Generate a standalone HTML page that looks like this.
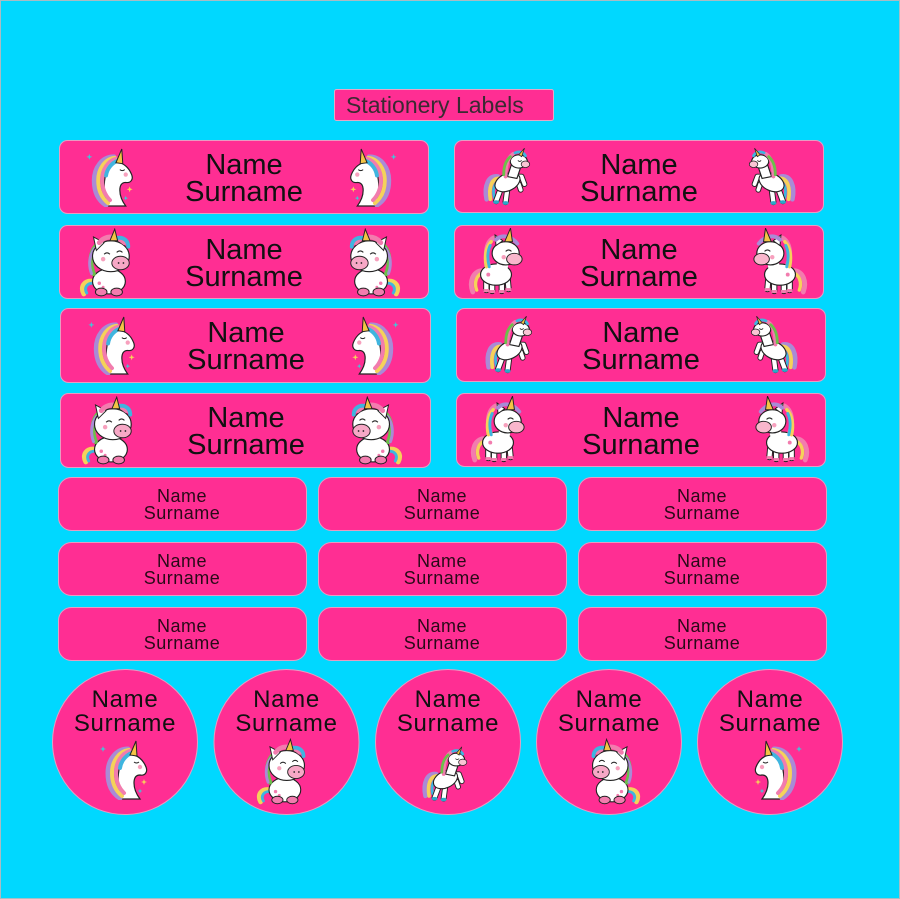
<!DOCTYPE html>
<html><head><meta charset="utf-8"><style>
html,body{margin:0;padding:0;background:#00d8ff;}
svg{display:block;}
</style></head><body>
<svg xmlns="http://www.w3.org/2000/svg" width="900" height="899" viewBox="0 0 900 899">
<defs>
<path id="spk" d="M0 -3 L0.8 -0.8 L3 0 L0.8 0.8 L0 3 L-0.8 0.8 L-3 0 L-0.8 -0.8 Z"/>
<symbol id="hd" viewBox="0 0 50 60">
<path d="M22 59 C20 48 18 40 20 30 C21 19 28 13 35 15 C41 17 45 22 47 27 C49 32 46 36 41 35 C37 35 35 38 35 43 C35 50 38 55 41 59 Z" fill="#fff" stroke="#222" stroke-width="1.2"/>
<path d="M29 9 C17 9 9 20 9 33 C9 45 13 53 21 58" fill="none" stroke="#a98bd6" stroke-width="5" stroke-linecap="round"/>
<path d="M30 10 C20 11 13 21 13 33 C13 44 17 51 23 56" fill="none" stroke="#f5d25a" stroke-width="4" stroke-linecap="round"/>
<path d="M31 11 C23 13 17 22 17 32 C17 42 20 48 25 53" fill="none" stroke="#f27cae" stroke-width="4" stroke-linecap="round"/>
<path d="M33 13 C27 15 22 21 21 28" fill="none" stroke="#3fb5df" stroke-width="4" stroke-linecap="round"/>
<path d="M31 15 L37 1 L38 16 Z" fill="#f4c445" stroke="#222" stroke-width="1"/>
<path d="M35 22 Q37.5 24 40 22" fill="none" stroke="#222" stroke-width="1"/>
<circle cx="41" cy="27" r="2.2" fill="#f7a0bd"/>
<use href="#spk" transform="translate(4,9)" fill="#3fc9d8"/>
<use href="#spk" transform="translate(45,42)" fill="#f5d25a"/>
<use href="#spk" transform="translate(41,51) scale(0.8)" fill="#3fc9d8"/>
</symbol>
<symbol id="st" viewBox="0 0 60 70">
<path d="M17 54 C6 52 2 60 6 67" fill="none" stroke="#f5d25a" stroke-width="5" stroke-linecap="round"/>
<path d="M17 56 C9 55 6 61 9 66" fill="none" stroke="#3fb5df" stroke-width="3" stroke-linecap="round"/>
<ellipse cx="32" cy="54" rx="17" ry="13" fill="#fff" stroke="#222" stroke-width="1.2"/>
<circle cx="22" cy="56" r="1.8" fill="#f27cae"/><circle cx="26" cy="60" r="1.5" fill="#f27cae"/>
<ellipse cx="24" cy="65" rx="6" ry="4" fill="#f27cae" stroke="#222" stroke-width="1"/>
<ellipse cx="40" cy="65" rx="6" ry="4" fill="#f27cae" stroke="#222" stroke-width="1"/>
<path d="M20 16 C12 24 12 36 16 46" fill="none" stroke="#6cc04a" stroke-width="5" stroke-linecap="round"/>
<path d="M17 20 C11 28 11 38 14 46" fill="none" stroke="#a98bd6" stroke-width="3" stroke-linecap="round"/>
<ellipse cx="34" cy="28" rx="19" ry="16" fill="#fff" stroke="#222" stroke-width="1.2"/>
<path d="M19 22 L16 8 L27 14 Z" fill="#fff" stroke="#222" stroke-width="1"/>
<ellipse cx="44" cy="35" rx="9" ry="7" fill="#f7a8c6" stroke="#222" stroke-width="1"/>
<circle cx="42" cy="35" r="0.9" fill="#222"/><circle cx="47" cy="35" r="0.9" fill="#222"/>
<path d="M22 14 C28 6 40 6 48 14" fill="none" stroke="#f27cae" stroke-width="5" stroke-linecap="round"/>
<path d="M41 9 C47 8 52 12 52 18" fill="none" stroke="#3fb5df" stroke-width="4" stroke-linecap="round"/>
<path d="M33 12 L38 0 L41 12 Z" fill="#f4c445" stroke="#222" stroke-width="1"/>
<path d="M27 26 Q30 23 33 26" fill="none" stroke="#222" stroke-width="1.1"/>
<path d="M40 24 Q43 21 46 24" fill="none" stroke="#222" stroke-width="1.1"/>
<circle cx="26" cy="31" r="2.3" fill="#f7a0bd"/>
</symbol>
<symbol id="rr" viewBox="0 0 55 62">
<path d="M18 30 C8 28 3 40 6 54" fill="none" stroke="#a98bd6" stroke-width="5" stroke-linecap="round"/>
<path d="M19 32 C11 32 8 42 10 54" fill="none" stroke="#f5d25a" stroke-width="4" stroke-linecap="round"/>
<path d="M20 34 C14 36 12 44 14 52" fill="none" stroke="#3fb5df" stroke-width="3" stroke-linecap="round"/>
<path d="M22 40 L16 56 M28 42 L26 57" stroke="#222" stroke-width="6.5" stroke-linecap="round"/>
<path d="M22 40 L16 56 M28 42 L26 57" stroke="#fff" stroke-width="4.5" stroke-linecap="round"/>
<ellipse cx="16" cy="57" rx="3.2" ry="2" fill="#2aa8c8"/><ellipse cx="26" cy="58" rx="3.2" ry="2" fill="#2aa8c8"/>
<path d="M34 30 L43 30 L46 38 M32 34 L40 38 L42 44" fill="none" stroke="#222" stroke-width="6" stroke-linecap="round" stroke-linejoin="round"/>
<path d="M34 30 L43 30 L46 38 M32 34 L40 38 L42 44" fill="none" stroke="#fff" stroke-width="4" stroke-linecap="round" stroke-linejoin="round"/>
<ellipse cx="28" cy="36" rx="14" ry="9" transform="rotate(-25 28 36)" fill="#fff" stroke="#222" stroke-width="1.2"/>
<path d="M28 30 L34 12 L44 14 L38 32 Z" fill="#fff" stroke="#222" stroke-width="1.2"/>
<ellipse cx="40" cy="14" rx="9" ry="7" fill="#fff" stroke="#222" stroke-width="1.2"/>
<ellipse cx="47" cy="17" rx="4.5" ry="3.5" fill="#f9c4d4" stroke="#222" stroke-width="0.8"/>
<path d="M34 6 C28 10 26 20 26 30" fill="none" stroke="#f27cae" stroke-width="4" stroke-linecap="round"/>
<path d="M31 9 C25 14 24 22 24 28" fill="none" stroke="#6cc04a" stroke-width="3" stroke-linecap="round"/>
<path d="M36 5 C40 3 45 4 47 8" fill="none" stroke="#3fb5df" stroke-width="3" stroke-linecap="round"/>
<path d="M40 7 L46 0 L43 9 Z" fill="#f4c445" stroke="#222" stroke-width="0.8"/>
<path d="M39 13 Q41 15 43 13" fill="none" stroke="#222" stroke-width="0.9"/>
</symbol>
<symbol id="sd" viewBox="0 0 60 70">
<path d="M16 44 C6 44 2 56 6 66" fill="none" stroke="#f27cae" stroke-width="5" stroke-linecap="round"/>
<path d="M17 46 C10 48 7 56 10 64" fill="none" stroke="#f5d25a" stroke-width="3.5" stroke-linecap="round"/>
<path d="M20 52 L20 64 M26 54 L26 65 M36 54 L36 65 M42 52 L43 63" stroke="#222" stroke-width="6.5" stroke-linecap="round"/>
<path d="M20 52 L20 64 M26 54 L26 65 M36 54 L36 65 M42 52 L43 63" stroke="#fff" stroke-width="4.5" stroke-linecap="round"/>
<rect x="17" y="63" width="6" height="3" fill="#f27cae"/><rect x="23" y="64" width="6" height="3" fill="#f27cae"/><rect x="33" y="64" width="6" height="3" fill="#f27cae"/><rect x="40" y="62" width="6" height="3" fill="#f27cae"/>
<ellipse cx="30" cy="48" rx="16" ry="11" fill="#fff" stroke="#222" stroke-width="1.2"/>
<circle cx="22" cy="48" r="2" fill="#f27cae"/>
<path d="M28 10 C20 14 18 26 22 38" fill="none" stroke="#f27cae" stroke-width="5" stroke-linecap="round"/>
<path d="M25 14 C19 20 18 30 20 40" fill="none" stroke="#f5d25a" stroke-width="3.5" stroke-linecap="round"/>
<path d="M24 18 C21 24 21 32 23 40" fill="none" stroke="#3fb5df" stroke-width="3" stroke-linecap="round"/>
<path d="M32 30 L30 42 L42 42 L44 30 Z" fill="#fff"/>
<ellipse cx="40" cy="26" rx="14" ry="12" fill="#fff" stroke="#222" stroke-width="1.2"/>
<ellipse cx="49" cy="32" rx="8" ry="6" fill="#f9b6cc" stroke="#222" stroke-width="1"/>
<path d="M30 18 L29 7 L37 13 Z" fill="#fff" stroke="#222" stroke-width="1"/>
<path d="M30 12 C36 6 46 8 52 16" fill="none" stroke="#a98bd6" stroke-width="4" stroke-linecap="round"/>
<path d="M39 14 L45 0 L47 14 Z" fill="#f4c445" stroke="#222" stroke-width="1"/>
<path d="M40 24 Q43 21 46 24" fill="none" stroke="#222" stroke-width="1.1"/>
<circle cx="38" cy="30" r="2.3" fill="#f7a0bd"/>
</symbol>
</defs>

<rect x="0.5" y="0.5" width="899" height="898" fill="#00d8ff" stroke="#a8bcc4" stroke-width="1"/>

<!-- Title -->
<rect x="334.5" y="89.5" width="219" height="31" rx="2" fill="#ff2e93" stroke="#e8a6c6" stroke-width="1"/>
<text x="346" y="113" font-family="Liberation Sans, sans-serif" font-size="23" fill="#3a2a32">Stationery Labels</text>

<g fill="#ff2e93" stroke="#e89cc2" stroke-width="1">
<rect x="59.5" y="140.5" width="369" height="73" rx="8"/>
<rect x="59.5" y="225.5" width="369" height="73" rx="8"/>
<rect x="60.5" y="308.5" width="370" height="74" rx="8"/>
<rect x="60.5" y="393.5" width="370" height="74" rx="8"/>
<rect x="454.5" y="140.5" width="369" height="72" rx="8"/>
<rect x="454.5" y="225.5" width="369" height="73" rx="8"/>
<rect x="456.5" y="308.5" width="369" height="73" rx="8"/>
<rect x="456.5" y="393.5" width="369" height="73" rx="8"/>

<rect x="58.5" y="477.5" width="248" height="53" rx="13"/>
<rect x="318.5" y="477.5" width="248" height="53" rx="13"/>
<rect x="578.5" y="477.5" width="248" height="53" rx="13"/>
<rect x="58.5" y="542.5" width="248" height="53" rx="13"/>
<rect x="318.5" y="542.5" width="248" height="53" rx="13"/>
<rect x="578.5" y="542.5" width="248" height="53" rx="13"/>
<rect x="58.5" y="607.5" width="248" height="53" rx="13"/>
<rect x="318.5" y="607.5" width="248" height="53" rx="13"/>
<rect x="578.5" y="607.5" width="248" height="53" rx="13"/>

<circle cx="125" cy="742" r="72.5"/>
<circle cx="286.5" cy="742" r="72.5"/>
<circle cx="448" cy="742" r="72.5"/>
<circle cx="609" cy="742" r="72.5"/>
<circle cx="770" cy="742" r="72.5"/>
</g>

<g font-family="Liberation Sans, sans-serif" font-size="29" fill="#111" text-anchor="middle">
<text x="244" y="174">Name</text><text x="244" y="201">Surname</text>
<text x="244" y="259">Name</text><text x="244" y="286">Surname</text>
<text x="246" y="342">Name</text><text x="246" y="369">Surname</text>
<text x="246" y="427">Name</text><text x="246" y="454">Surname</text>
<text x="639" y="174">Name</text><text x="639" y="201">Surname</text>
<text x="639" y="259">Name</text><text x="639" y="286">Surname</text>
<text x="641" y="342">Name</text><text x="641" y="369">Surname</text>
<text x="641" y="427">Name</text><text x="641" y="454">Surname</text>
</g>

<g font-family="Liberation Sans, sans-serif" font-size="18" fill="#2a0a18" text-anchor="middle" letter-spacing="0.5">
<text x="182" y="502">Name</text><text x="182" y="519">Surname</text>
<text x="442" y="502">Name</text><text x="442" y="519">Surname</text>
<text x="702" y="502">Name</text><text x="702" y="519">Surname</text>
<text x="182" y="567">Name</text><text x="182" y="584">Surname</text>
<text x="442" y="567">Name</text><text x="442" y="584">Surname</text>
<text x="702" y="567">Name</text><text x="702" y="584">Surname</text>
<text x="182" y="632">Name</text><text x="182" y="649">Surname</text>
<text x="442" y="632">Name</text><text x="442" y="649">Surname</text>
<text x="702" y="632">Name</text><text x="702" y="649">Surname</text>
</g>

<g font-family="Liberation Sans, sans-serif" font-size="24" fill="#111" text-anchor="middle" letter-spacing="0.7">
<text x="125" y="707">Name</text><text x="125" y="731">Surname</text>
<text x="286.5" y="707">Name</text><text x="286.5" y="731">Surname</text>
<text x="448" y="707">Name</text><text x="448" y="731">Surname</text>
<text x="609" y="707">Name</text><text x="609" y="731">Surname</text>
<text x="770" y="707">Name</text><text x="770" y="731">Surname</text>
</g>

<!-- unicorns big labels -->
<use href="#hd" x="85" y="148" width="50" height="59"/>
<use href="#hd" x="0" y="0" width="50" height="59" transform="translate(398,148) scale(-1,1)"/>
<use href="#st" x="78" y="228" width="58" height="70"/>
<use href="#st" x="0" y="0" width="58" height="70" transform="translate(402,228) scale(-1,1)"/>
<use href="#hd" x="87" y="316" width="50" height="59"/>
<use href="#hd" x="0" y="0" width="50" height="59" transform="translate(400,316) scale(-1,1)"/>
<use href="#st" x="80" y="396" width="58" height="70"/>
<use href="#st" x="0" y="0" width="58" height="70" transform="translate(404,396) scale(-1,1)"/>

<use href="#rr" x="481" y="147" width="52" height="61"/>
<use href="#rr" x="0" y="0" width="52" height="61" transform="translate(798,147) scale(-1,1)"/>
<use href="#sd" x="467" y="228" width="58" height="68"/>
<use href="#sd" x="0" y="0" width="58" height="68" transform="translate(809,228) scale(-1,1)"/>
<use href="#rr" x="483" y="315" width="52" height="61"/>
<use href="#rr" x="0" y="0" width="52" height="61" transform="translate(800,315) scale(-1,1)"/>
<use href="#sd" x="469" y="396" width="58" height="68"/>
<use href="#sd" x="0" y="0" width="58" height="68" transform="translate(811,396) scale(-1,1)"/>

<!-- unicorns circles -->
<use href="#hd" x="99" y="740" width="50" height="60"/>
<use href="#st" x="255" y="738" width="56" height="68"/>
<use href="#rr" x="420" y="745" width="50" height="60"/>
<use href="#st" x="0" y="0" width="56" height="68" transform="translate(642,738) scale(-1,1)"/>
<use href="#hd" x="0" y="0" width="50" height="60" transform="translate(803,740) scale(-1,1)"/>
</svg>
</body></html>
